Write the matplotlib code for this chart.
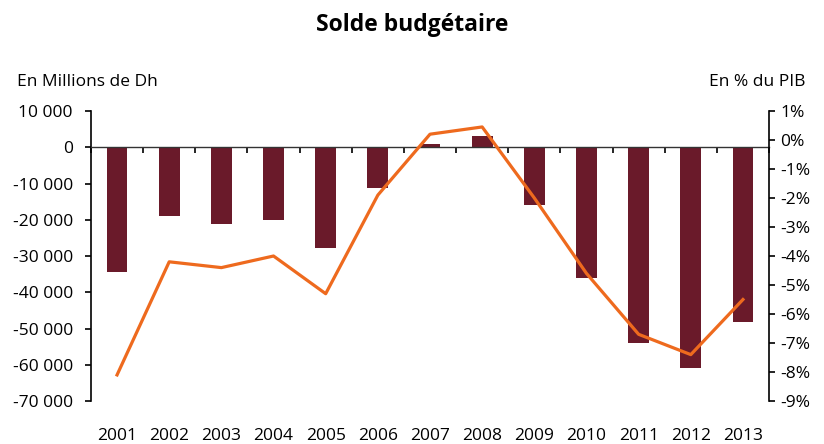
import numpy as np
import matplotlib.pyplot as plt
from matplotlib.ticker import FuncFormatter

plt.rcParams['font.family'] = ['Open Sans', 'DejaVu Sans']

# Donnees
annees = ['2001', '2002', '2003', '2004', '2005', '2006', '2007',
          '2008', '2009', '2010', '2011', '2012', '2013']
solde_mdh = [-34300, -18900, -21100, -20200, -27700, -11300, 1000,
             3100, -15800, -36000, -53900, -60800, -48100]
solde_pib = [-8.1, -4.2, -4.4, -4.0, -5.3, -1.9, 0.2,
             0.45, -2.0, -4.6, -6.7, -7.4, -5.5]

couleur_barres = '#6A1A2A'
couleur_ligne = '#EE6A1E'

fig = plt.figure(figsize=(8.24, 4.44), dpi=100)
ax = fig.add_axes([0.1104, 0.0968, 0.8229, 0.6532])
x = np.arange(len(annees))

ax.bar(x, solde_mdh, width=0.4, color=couleur_barres, zorder=2)
ax.set_xlim(-0.5, len(annees) - 0.5)
ax.set_ylim(-70000, 10000)
ax.set_yticks(np.arange(-70000, 10001, 10000))
ax.yaxis.set_major_formatter(
    FuncFormatter(lambda v, p: f'{int(v):,}'.replace(',', ' ')))

ax.spines['top'].set_visible(False)
ax.spines['right'].set_visible(False)
ax.spines['bottom'].set_position(('data', 0))
ax.spines['bottom'].set_color('#333333')
ax.spines['bottom'].set_linewidth(1.0)
ax.spines['left'].set_linewidth(1.2)
ax.set_xticks(x)
ax.set_xticklabels([])
ax.tick_params(axis='x', which='major', length=0)
ax.set_xticks(np.arange(-0.5, len(annees)), minor=True)
ax.tick_params(axis='x', which='minor', length=4, width=1.2, direction='out')
ax.tick_params(axis='y', length=4, width=1.2, labelsize=12.5, pad=9)

for xi, lab in zip(x, annees):
    ax.text(xi, -0.12, lab, transform=ax.get_xaxis_transform(),
            ha='center', va='center', fontsize=12.5)

ax2 = ax.twinx()
ax2.plot(x, solde_pib, color=couleur_ligne, linewidth=2.3, zorder=3)
ax2.set_ylim(-9, 1)
ax2.set_yticks(np.arange(-9, 2, 1))
ax2.yaxis.set_major_formatter(FuncFormatter(lambda v, p: f'{int(round(v))}%'))
for s in ['top', 'left', 'bottom']:
    ax2.spines[s].set_visible(False)
ax2.spines['right'].set_linewidth(1.2)
ax2.tick_params(axis='y', length=4, width=1.2, labelsize=12.5, pad=4)

fig.text(0.5, 0.944, 'Solde budgétaire', ha='center', va='center',
         fontsize=16.5, fontweight='bold')
fig.text(0.021, 0.815, 'En Millions de Dh', ha='left', va='center', fontsize=12.5)
fig.text(0.978, 0.815, 'En % du PIB', ha='right', va='center', fontsize=12.5)

fig.savefig('out.png', dpi=100)
